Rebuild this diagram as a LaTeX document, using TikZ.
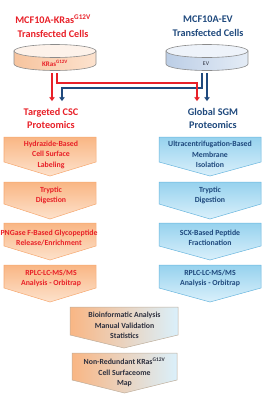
\documentclass[tikz,border=0pt]{standalone}
\usepackage{fontspec}
\setmainfont{Carlito}
\usetikzlibrary{arrows.meta}
\definecolor{kred}{RGB}{232,32,40}
\definecolor{kblue}{RGB}{31,73,125}
\definecolor{cgray}{RGB}{45,48,62}
\definecolor{otop}{RGB}{249,182,132}
\definecolor{obot}{RGB}{253,226,204}
\definecolor{oline}{RGB}{246,168,112}
\definecolor{btop}{RGB}{150,210,238}
\definecolor{bbot}{RGB}{218,240,251}
\definecolor{bline}{RGB}{105,182,222}
\definecolor{dishline}{RGB}{140,140,140}
\definecolor{ldishA}{RGB}{247,196,158}
\definecolor{ldishB}{RGB}{252,226,206}
\definecolor{ldishT}{RGB}{253,242,234}
\definecolor{rdishA}{RGB}{188,206,230}
\definecolor{rdishB}{RGB}{228,236,246}
\definecolor{rdishT}{RGB}{238,243,250}
\newcommand\chevbox[6]{%
  \path[#6] (#1,#3) -- (#2,#3) -- (#2,#4) -- ({(#1+#2)/2},#5) -- (#1,#4) -- cycle;}
\newcommand\dishshape[6]{%
  \path[#6,draw=dishline,line width=0.6pt] ({#1-#2},#3) -- ({#1-#2},#4)
     arc[start angle=180,end angle=0,x radius=#2,y radius=#5] -- ({#1+#2},#3) -- cycle;}
\begin{document}
\begin{tikzpicture}[x=1pt,y=-1pt,
  title/.style={font=\fontsize{10.2}{14}\selectfont\bfseries,align=center,inner sep=0pt},
  head/.style={font=\fontsize{10.2}{13}\selectfont\bfseries,align=center,inner sep=0pt},
  boxtext/.style={font=\fontsize{7.8}{10.5}\selectfont\bfseries,align=center,inner sep=0pt},
  lbox/.style={top color=otop,bottom color=obot,draw=oline,line width=0.5pt},
  rbox/.style={top color=btop,bottom color=bbot,draw=bline,line width=0.5pt},
  cbox/.style={left color=otop,right color=bbot,draw=oline!60!bline,line width=0.5pt},
  redline/.style={draw=kred,line width=1.1pt},
  blueline/.style={draw=kblue,line width=1.1pt},
  tip/.style={-{Straight Barb[length=3pt,width=4.5pt]}}]
\useasboundingbox (0,0) rectangle (269,400);

% titles
\node[title,text=kred] (ltitle) at (53,26) {MCF10A-KRas\textsuperscript{G12V}\\Transfected Cells};
\node[title,text=kblue] (rtitle) at (208,26) {MCF10A-EV\\Transfected Cells};

% dishes
\dishshape{55}{41}{51}{64}{6.5}{left color=ldishA,right color=ldishB}
\draw[fill=ldishT,draw=dishline,line width=0.6pt] (55,51) ellipse[x radius=41,y radius=6.5];
\node[font=\fontsize{7}{8}\selectfont\bfseries,text=kred,inner sep=0pt] (kdish) at (55,63.5) {KRas\textsuperscript{G12V}};
\dishshape{207}{41}{51}{64}{6.5}{left color=rdishA,right color=rdishB}
\draw[fill=rdishT,draw=dishline,line width=0.6pt] (207,51) ellipse[x radius=41,y radius=6.5];
\node[font=\fontsize{5.8}{7}\selectfont,text=cgray,inner sep=0pt] (evdish) at (206,63.5) {EV};

% connector points
\coordinate (r1s) at (52,73);  \coordinate (r1e) at (52,101);
\coordinate (r2s) at (57,73);  \coordinate (r2e) at (197,101);
\coordinate (b1s) at (202,73); \coordinate (b1e) at (62,101);
\coordinate (b2s) at (207,73); \coordinate (b2e) at (207,101);

\draw[blueline,tip] (b1s) -- (202,88) -- (62,88) -- (b1e);
\draw[blueline,tip] (b2s) -- (b2e);
\draw[redline,tip] (r1s) -- (r1e);
\draw[redline,tip] (r2s) -- (57,83) -- (197,83) -- (r2e);

% headings
\node[head,text=kred] (lhead) at (51,118.5) {Targeted CSC\\Proteomics};
\node[head,text=kblue] (rhead) at (213,118.5) {Global SGM\\Proteomics};

% left column
\chevbox{4}{96}{137}{162}{176}{lbox}
\chevbox{4}{96}{182}{204}{219}{lbox}
\chevbox{4}{96}{223}{246}{260}{lbox}
\chevbox{4}{96}{265}{288}{302}{lbox}
\node[boxtext,text=kred] (l1) at (51,154.5) {Hydrazide-Based\\Cell Surface\\Labeling};
\node[boxtext,text=kred] (l2) at (51,195.5) {Tryptic\\Digestion};
\node[boxtext,text=kred] (l3) at (49,238) {PNGase F-Based Glycopeptide\\Release/Enrichment};
\node[boxtext,text=kred] (l4) at (51,278.5) {RPLC-LC-MS/MS\\Analysis - Orbitrap};

% right column
\chevbox{159}{261}{137}{162}{176}{rbox}
\chevbox{159}{261}{182}{204}{219}{rbox}
\chevbox{159}{261}{223}{246}{260}{rbox}
\chevbox{159}{261}{265}{288}{302}{rbox}
\node[boxtext,text=kblue] (r1) at (210,154.5) {Ultracentrifugation-Based\\Membrane\\Isolation};
\node[boxtext,text=kblue] (r2) at (210,195.5) {Tryptic\\Digestion};
\node[boxtext,text=kblue] (r3) at (210,238) {SCX-Based Peptide\\Fractionation};
\node[boxtext,text=kblue] (r4) at (210,278.5) {RPLC-LC-MS/MS\\Analysis - Orbitrap};

% center column
\chevbox{70}{178}{307}{335}{348}{cbox}
\chevbox{72}{177}{353}{380}{393}{cbox}
\node[boxtext,text=cgray] (c1) at (124.5,325.5) {Bioinformatic Analysis\\Manual Validation\\Statistics};
\node[boxtext,text=cgray] (c2) at (124.5,372.5) {Non-Redundant KRas\textsuperscript{G12V}\\Cell Surfaceome\\Map};
\end{tikzpicture}
\end{document}
